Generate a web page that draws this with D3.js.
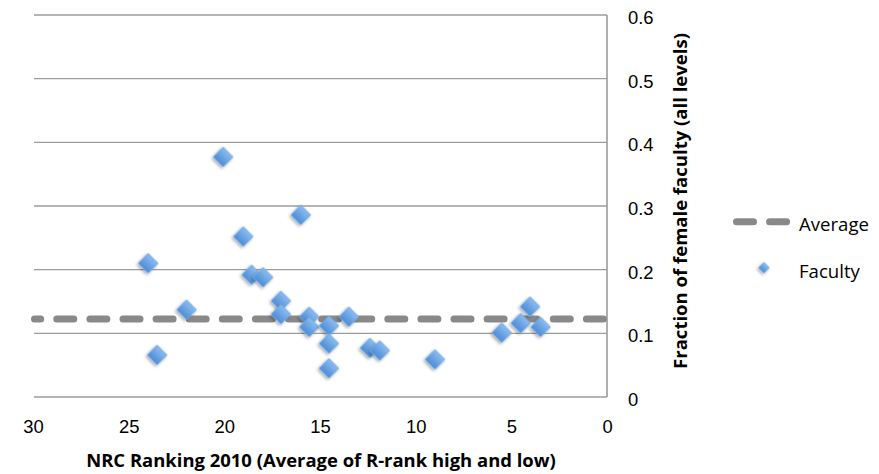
<!DOCTYPE html>
<html>
<head>
<meta charset="utf-8">
<script src="https://cdn.jsdelivr.net/npm/d3@7"></script>
<style>
  html, body { margin: 0; padding: 0; background: #fff; }
  svg { display: block; font-family: "Open Sans", Lato, sans-serif; }
</style>
</head>
<body>
<svg id="chart" width="879" height="474"></svg>
<script>
// NRC ranking (average of R-rank high and low) for each department
const rankings = [20.06, 16.0, 19.01, 23.98, 18.57, 17.97, 17.04, 17.04, 21.97, 23.51,
                  15.56, 15.56, 14.53, 14.53, 14.53, 13.49, 12.39, 11.87, 8.99,
                  5.50, 4.51, 4.02, 3.47];
// Fraction of female faculty (all levels) for each department
const fractions = [0.377, 0.286, 0.252, 0.210, 0.192, 0.188, 0.151, 0.130, 0.137, 0.066,
                   0.126, 0.110, 0.112, 0.084, 0.045, 0.126, 0.077, 0.073, 0.059,
                   0.101, 0.116, 0.142, 0.110];
const averageFraction = 0.1225;
const xTicks = [30, 25, 20, 15, 10, 5, 0];
const yTicks = [0, 0.1, 0.2, 0.3, 0.4, 0.5, 0.6];
const seriesNames = ["Average", "Faculty"];
const xTitle = "NRC Ranking 2010 (Average of R-rank high and low)";
const yTitle = "Fraction of female faculty (all levels)";

const points = rankings.map((r, i) => ({ rank: r, frac: fractions[i] }));

const svg = d3.select("#chart");
const plot = { left: 34, right: 607, top: 15, bottom: 397 };

const x = d3.scaleLinear().domain([30, 0]).range([33, 607]);
const y = d3.scaleLinear().domain([0, 0.6]).range([plot.bottom, plot.top]);

// Size a text element so that it spans the given width
function fitWidth(sel, width) {
  sel.attr("font-size", 20);
  const w = sel.node().getComputedTextLength();
  const size = 20 * width / w;
  sel.attr("font-size", size);
  return size;
}

// Marker styling: gradient fill and soft drop shadow
const defs = svg.append("defs");
const grad = defs.append("linearGradient")
  .attr("id", "markerFill").attr("x1", 0).attr("y1", 0).attr("x2", 0).attr("y2", 1);
grad.append("stop").attr("offset", "0%").attr("stop-color", "#8cbcf0");
grad.append("stop").attr("offset", "100%").attr("stop-color", "#4d8cd6");
const shadow = defs.append("filter").attr("id", "markerShadow")
  .attr("x", "-50%").attr("y", "-50%").attr("width", "200%").attr("height", "200%");
shadow.append("feDropShadow")
  .attr("dx", 0).attr("dy", 2).attr("stdDeviation", 1.4)
  .attr("flood-color", "#000").attr("flood-opacity", 0.35);

// Horizontal gridlines
svg.append("g")
  .selectAll("line")
  .data(yTicks)
  .join("line")
  .attr("x1", plot.left).attr("x2", plot.right)
  .attr("y1", d => y(d)).attr("y2", d => y(d))
  .attr("stroke", "#9c9c9c").attr("stroke-width", 1.4);

// Right-hand value axis line
svg.append("line")
  .attr("x1", plot.right).attr("x2", plot.right)
  .attr("y1", plot.top).attr("y2", plot.bottom)
  .attr("stroke", "#9c9c9c").attr("stroke-width", 1.6);

// X axis labels (bottom)
const xAxis = d3.axisBottom(x).tickValues(xTicks).tickSize(0).tickPadding(0)
  .tickFormat(d3.format("d"));
const gx = svg.append("g").attr("transform", `translate(0,433)`).call(xAxis);
gx.select(".domain").remove();
const xLabels = gx.selectAll("text")
  .attr("y", 0).attr("dy", null)
  .attr("font-family", null).attr("fill", "#000");
const tickSize = fitWidth(xLabels.filter(d => d === 30), 20.5);
xLabels.attr("font-size", tickSize);

// Y axis labels (right side)
const yAxis = d3.axisRight(y).tickValues(yTicks).tickSize(0).tickPadding(0)
  .tickFormat(d => d === 0 ? "0" : d3.format(".1f")(d));
const gy = svg.append("g").attr("transform", `translate(628,0)`).call(yAxis);
gy.select(".domain").remove();
gy.selectAll("text")
  .attr("x", 0).attr("dy", null).attr("y", 8.5)
  .attr("text-anchor", "start")
  .attr("font-size", tickSize).attr("font-family", null).attr("fill", "#000");

// Axis titles
const xt = svg.append("text")
  .attr("x", 321).attr("y", 467)
  .attr("text-anchor", "middle")
  .attr("font-weight", "bold")
  .text(xTitle);
fitWidth(xt, 470);

const yt = svg.append("text")
  .attr("transform", `translate(686.5,201) rotate(-90)`)
  .attr("text-anchor", "middle")
  .attr("font-weight", "bold")
  .text(yTitle);
fitWidth(yt, 336);

// Average reference line (dashed)
const dashStyle = sel => sel
  .attr("stroke", "#898989").attr("stroke-width", 7)
  .attr("stroke-linecap", "round").attr("stroke-dasharray", "17 16.1")
  .attr("fill", "none");

svg.append("line")
  .attr("x1", x(30) + 1.5).attr("x2", x(0) - 3.5)
  .attr("y1", y(averageFraction)).attr("y2", y(averageFraction))
  .attr("stroke-dashoffset", 10.8)
  .call(dashStyle);

// Faculty scatter markers (diamonds)
const diamond = d3.symbol().type(d3.symbolSquare).size(195);
svg.append("g")
  .selectAll("path")
  .data(points)
  .join("path")
  .attr("d", diamond)
  .attr("transform", d => `translate(${x(d.rank)},${y(d.frac)}) rotate(45)`)
  .attr("fill", "url(#markerFill)")
  .attr("stroke", "#74a9e6").attr("stroke-width", 0.8)
  .attr("filter", "url(#markerShadow)");

// Legend
const legend = svg.append("g");
legend.append("line")
  .attr("x1", 736.5).attr("x2", 788)
  .attr("y1", 221.7).attr("y2", 221.7)
  .call(dashStyle);
const avgLabel = legend.append("text")
  .attr("x", 799).attr("y", 230.5)
  .text(seriesNames[0]);
fitWidth(avgLabel, 70);
legend.append("path")
  .attr("d", d3.symbol().type(d3.symbolSquare).size(60)())
  .attr("transform", "translate(764,267.7) rotate(45)")
  .attr("fill", "url(#markerFill)")
  .attr("stroke", "#74a9e6").attr("stroke-width", 0.6)
  .attr("filter", "url(#markerShadow)");
legend.append("text")
  .attr("x", 799).attr("y", 277.5)
  .attr("font-size", avgLabel.attr("font-size"))
  .text(seriesNames[1]);
</script>
</body>
</html>
